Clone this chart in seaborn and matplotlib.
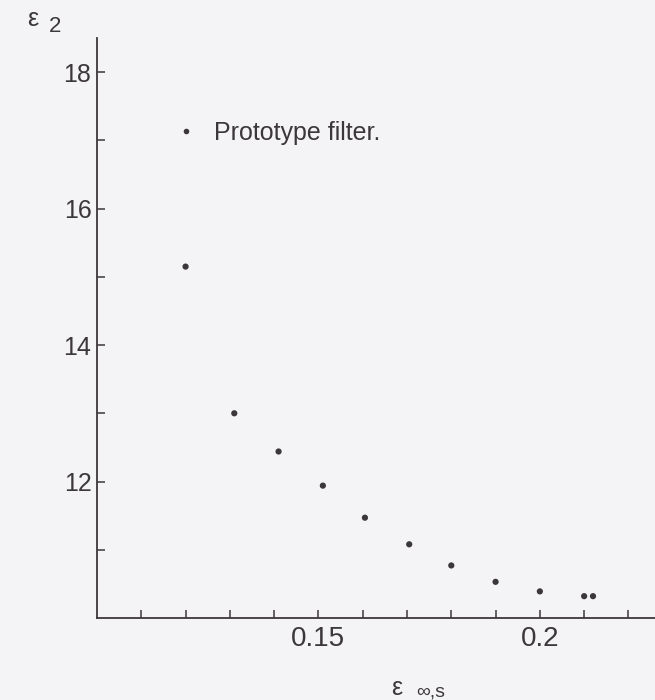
import numpy as np
import matplotlib
matplotlib.use('Agg')
import matplotlib.pyplot as plt
import seaborn as sns
import pandas as pd

# values
eps_inf_s = [0.120, 0.131, 0.141, 0.151, 0.1605, 0.1705, 0.180, 0.190, 0.200, 0.210, 0.212]
eps_2 = [15.15, 13.00, 12.44, 11.94, 11.47, 11.08, 10.77, 10.53, 10.39, 10.32, 10.32]
series_label = 'Prototype filter.'
x_ticklabels = ['0.15', '0.2']
y_ticklabels = ['12', '14', '16', '18']

df = pd.DataFrame({'eps_inf_s': eps_inf_s, 'eps_2': eps_2, 'series': series_label})

sns.set_style('ticks')
plt.rcParams['font.family'] = ['Liberation Sans', 'DejaVu Sans']

bg = '#f4f3f5'
ink = '#3b373b'

fig = plt.figure(figsize=(6.55, 7.0), dpi=100, facecolor=bg)
ax = fig.add_axes([97 / 655, 1 - 618 / 700, 1 - 97 / 655, (618 - 38) / 700])
ax.set_facecolor(bg)

sns.scatterplot(data=df, x='eps_inf_s', y='eps_2', hue='series', palette=[ink],
                s=20, edgecolor='none', ax=ax, legend=True)

ax.set_xlim(0.10, 0.226)
ax.set_ylim(10, 18.5)

ax.set_xticks([float(t) for t in x_ticklabels])
ax.set_xticklabels(x_ticklabels)
ax.set_xticks(np.arange(0.11, 0.225, 0.01), minor=True)
ax.set_yticks([float(t) for t in y_ticklabels])
ax.set_yticklabels(y_ticklabels)
ax.set_yticks([11, 13, 15, 17], minor=True)

ax.tick_params(axis='both', which='both', direction='in', length=6, width=1.1, color=ink)
ax.tick_params(axis='x', which='major', labelsize=20, pad=6, labelcolor=ink)
ax.tick_params(axis='y', which='major', labelsize=18, pad=4, labelcolor=ink)

for side in ['top', 'right']:
    ax.spines[side].set_visible(False)
for side in ['left', 'bottom']:
    ax.spines[side].set_color(ink)
    ax.spines[side].set_linewidth(1.3)

ax.set_xlabel('')
ax.set_ylabel('')

leg = ax.legend(loc='center left', bbox_to_anchor=(177 / 655, 1 - 133 / 700),
                bbox_transform=fig.transFigure, frameon=False, fontsize=18,
                handlelength=0.75, handletextpad=0.75, borderaxespad=0, borderpad=0,
                markerscale=0.9)
for t in leg.get_texts():
    t.set_color(ink)

# axis titles placed like the original
fig.text(27 / 655, 1 - 19 / 700, 'ε', fontsize=18, color=ink, va='center', ha='left')
fig.text(49 / 655, 1 - 26 / 700, '2', fontsize=16, color=ink, va='center', ha='left')
fig.text(391 / 655, 1 - 688 / 700, 'ε', fontsize=18, color=ink, va='center', ha='left')
fig.text(416 / 655, 1 - 692 / 700, '∞,s', fontsize=14, color=ink, va='center', ha='left')

fig.savefig('out.png', dpi=100, facecolor=bg)
